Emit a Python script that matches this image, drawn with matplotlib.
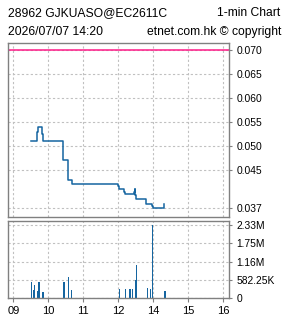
import matplotlib
matplotlib.use("Agg")
import matplotlib.pyplot as plt

# ---- data ----
price_times = ["09:30", "09:41", "09:42", "09:49", "09:51", "10:25", "10:33", "10:40",
               "13:00", "13:02", "13:10", "13:12", "13:27", "13:28", "13:29", "13:30",
               "13:47", "13:57", "13:59", "14:19"]
prices = [0.051, 0.053, 0.054, 0.0525, 0.051, 0.047, 0.043, 0.042,
          0.0417, 0.041, 0.0405, 0.040, 0.0405, 0.041, 0.0397, 0.039,
          0.038, 0.0376, 0.037, 0.038]

vol_times = ["09:31", "09:34", "09:36", "09:37", "09:41", "09:44", "09:51", "09:52",
             "10:27", "10:34", "10:40", "13:02", "13:12", "13:20", "13:24", "13:29",
             "13:31", "13:50", "13:55", "13:58", "14:20"]
volumes = [500000, 240000, 400000, 220000, 220000, 500000, 180000, 40000,
           500000, 660000, 260000, 290000, 290000, 290000, 290000, 570000,
           1050000, 320000, 290000, 2329000, 220000]

upper_line = 0.070
price_ticks = [0.070, 0.065, 0.060, 0.055, 0.050, 0.045, 0.037]
price_tick_labels = ["0.070", "0.065", "0.060", "0.055", "0.050", "0.045", "0.037"]
vol_ticks = [0, 582250, 1164500, 1746750, 2329000]
vol_tick_labels = ["0", "582.25K", "1.16M", "1.75M", "2.33M"]
hour_ticks = [9, 10, 11, 12, 13, 14, 15]
hour_labels = ["09", "10", "11", "12", "14", "15", "16"]

title_left = "28962 GJKUASO@EC2611C"
title_right = "1-min Chart"
sub_left = "2026/07/07 14:20"
sub_right = "etnet.com.hk \u00a9 copyright"


def to_x(t):
    h, m = map(int, t.split(":"))
    v = h + m / 60.0
    if v >= 13:
        v -= 1.0  # lunch break compressed
    return v


px = [to_x(t) for t in price_times]
vx = [to_x(t) for t in vol_times]

FONT = "Liberation Sans"
LINE_C = "#1565a0"
GRID_C = "#c0c0c0"
SPINE_C = "#808080"

fig = plt.figure(figsize=(2.85, 3.18), dpi=100)
W, H = 285.0, 318.0

def rect(l, t, r, b):
    return [l / W, 1 - b / H, (r - l) / W, (b - t) / H]

ax = fig.add_axes(rect(8.3, 43, 229.3, 217))
axv = fig.add_axes(rect(8.3, 221, 229.3, 298))

xlim = (9 - 5.0 / 35, 15 + 6.0 / 35)

for a in (ax, axv):
    a.set_xlim(*xlim)
    for s in a.spines.values():
        s.set_color(SPINE_C)
        s.set_linewidth(1.0)
    a.yaxis.tick_right()
    a.set_xticks(hour_ticks)
    a.grid(True, color=GRID_C, linestyle=(0, (2, 2)), linewidth=0.8)
    a.set_axisbelow(True)
    a.tick_params(axis="y", length=2.5, width=0.8, color=SPINE_C, pad=2.5,
                  labelsize=7.4, labelcolor="black")

# main price panel
ax.step(px, prices, where="post", color=LINE_C, linewidth=1.1)
ax.axhline(upper_line, color="#ff1a88", linewidth=1.1)
ax.set_ylim(0.070 - 167 / 4800.0, 0.070 + 7 / 4800.0)
ax.set_yticks(price_ticks)
ax.set_yticklabels(price_tick_labels, fontfamily=FONT)
ax.tick_params(axis="x", length=0, labelbottom=False)

# volume panel
axv.bar(vx, volumes, width=1.2 / 35, color=LINE_C, linewidth=0, antialiased=False)
axv.set_ylim(0, 2329000 + 4 / 31.34 * 1e6)
axv.set_yticks(vol_ticks)
axv.set_yticklabels(vol_tick_labels, fontfamily=FONT)
axv.set_xticklabels(hour_labels, fontfamily=FONT)
axv.tick_params(axis="x", length=3, width=0.8, color=SPINE_C, pad=2.5,
                labelsize=8.0, labelcolor="black")

# header
fs = 8.7
fig.text(8 / W, 1 - 16 / H, title_left, ha="left", va="baseline", fontsize=fs, fontfamily=FONT)
fig.text(280 / W, 1 - 16 / H, title_right, ha="right", va="baseline", fontsize=fs, fontfamily=FONT)
fig.text(8 / W, 1 - 34.7 / H, sub_left, ha="left", va="baseline", fontsize=fs, fontfamily=FONT)
fig.text(281 / W, 1 - 34.7 / H, sub_right, ha="right", va="baseline", fontsize=fs, fontfamily=FONT)

fig.savefig("out.png", dpi=100)
